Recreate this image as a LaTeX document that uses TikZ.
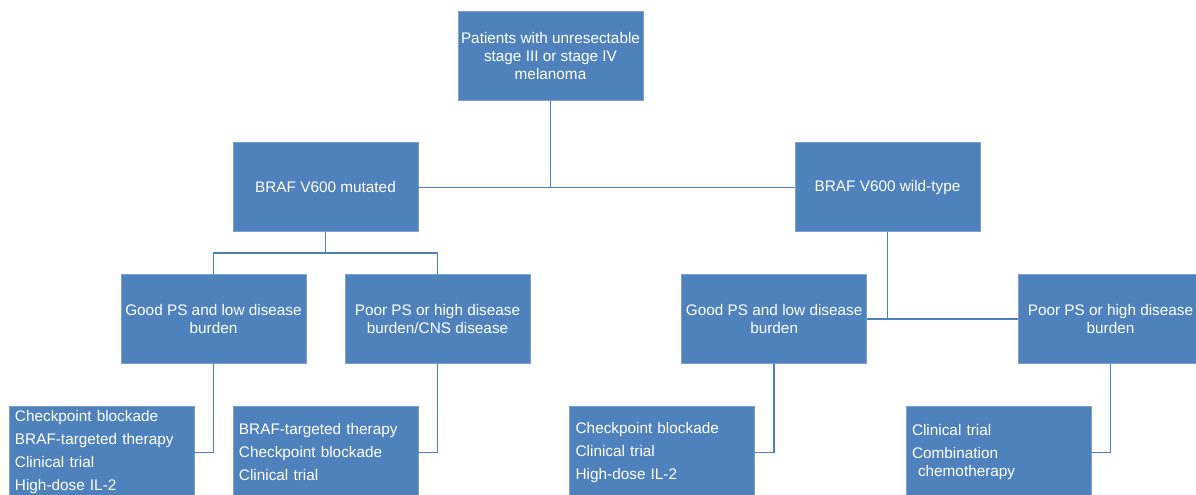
\documentclass[tikz,border=0pt]{standalone}
\usepackage{fontspec}
\setmainfont{Liberation Sans}
\usepackage{tikz}
\usetikzlibrary{calc,positioning}
\definecolor{boxblue}{RGB}{79,129,189}
\definecolor{edgeblue}{RGB}{124,160,206}
\tikzset{
  decision/.style={draw=edgeblue,line width=0.6pt,fill=boxblue,text=white,
    minimum width=138.75pt,minimum height=66.75pt,inner sep=2pt,align=center,
    font=\fontsize{11.5}{13.5}\selectfont},
  therapy/.style={decision,minimum height=69pt,inner xsep=4.5pt,
    text width=129.75pt,align=left},
  link/.style={draw=boxblue,line width=1.1pt}
}

\begin{document}
\begin{tikzpicture}[node distance=31.2pt]
  \useasboundingbox (-412.875pt,42pt) rectangle (484.125pt,-329.25pt);
  \node[decision] (patients)
    {Patients with unresectable\\stage III or stage IV\\melanoma};
  \node[decision,below=of patients,xshift=-168.75pt] (mutated)
    {BRAF V600 mutated};
  \node[decision,below=of patients,xshift=252.75pt] (wildtype)
    {BRAF V600 wild-type};
  \node[decision,below=of mutated,xshift=-84pt] (mutgood)
    {Good PS and low disease\\burden};
  \node[decision,below=of mutated,xshift=84pt] (mutpoor)
    {Poor PS or high disease\\burden/CNS disease};
  \node[decision,below=of wildtype,xshift=-85pt] (wtgood)
    {Good PS and low disease\\burden};
  \node[decision,below=of wildtype,xshift=167.25pt] (wtpoor)
    {Poor PS or high disease\\burden};
  \node[therapy,below=31.8pt of mutgood,xshift=-84pt] (mutgoodtx)
    {Checkpoint blockade\\[3.75pt]BRAF-targeted therapy\\[3.75pt]Clinical trial\\[3.75pt]High-dose IL-2};
  \node[therapy,below=31.8pt of mutpoor,xshift=-84pt] (mutpoortx)
    {BRAF-targeted therapy\\[3.75pt]Checkpoint blockade\\[3.75pt]Clinical trial};
  \node[therapy,below=31.8pt of wtgood,xshift=-84pt] (wtgoodtx)
    {Checkpoint blockade\\[3.75pt]Clinical trial\\[3.75pt]High-dose IL-2};
  \node[therapy,below=31.8pt of wtpoor,xshift=-84pt] (wtpoortx)
    {Clinical trial\\[3.75pt]Combination\\\hspace*{4.5pt}chemotherapy};
  % branch points
  \coordinate (mutsplit) at ($(mutated.south)!.5!(mutated.south |- mutgood.north)$);
  \draw[link] (patients.south) -- (patients.south |- mutated.east);
  \draw[link] (mutated.east) -- (wildtype.west);
  \draw[link] (mutated.south) -- (mutsplit);
  \draw[link] (mutgood.north) |- (mutsplit) -| (mutpoor.north);
  \draw[link] (wildtype.south) -- (wildtype.south |- wtgood.east);
  \draw[link] (wtgood.east) -- (wtpoor.west);
  \draw[link] (mutgood.south) |- (mutgoodtx.east);
  \draw[link] (mutpoor.south) |- (mutpoortx.east);
  \draw[link] (wtgood.south) |- (wtgoodtx.east);
  \draw[link] (wtpoor.south) |- (wtpoortx.east);
\end{tikzpicture}
\end{document}
